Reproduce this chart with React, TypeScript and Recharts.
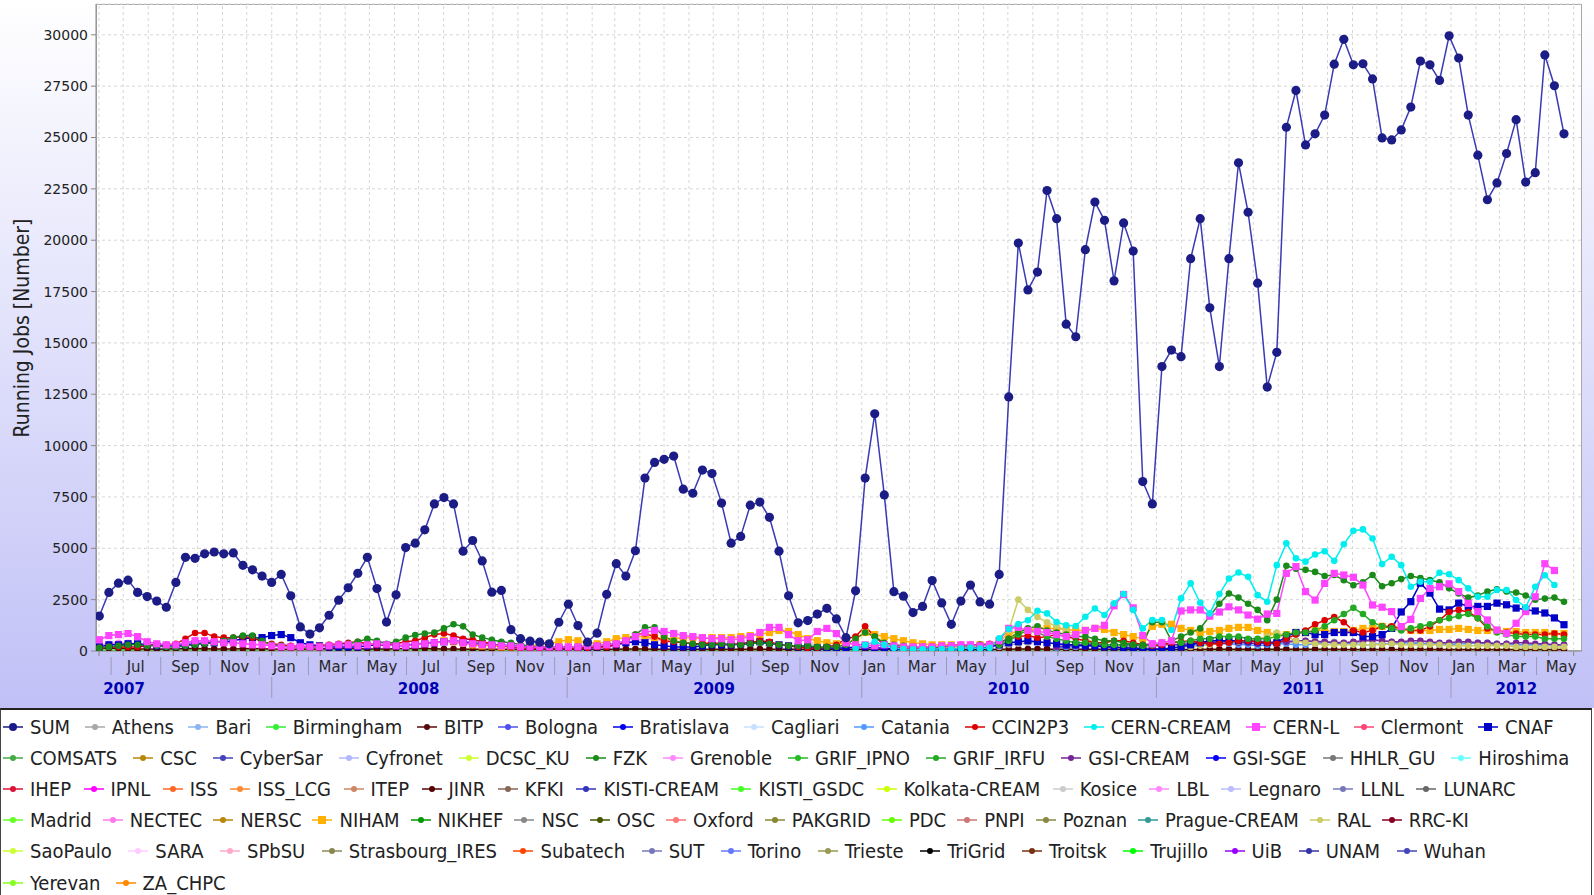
import React from "react"
import { LineChart, Line, XAxis, YAxis, CartesianGrid, ReferenceLine } from "recharts"

const W = 1594
const CHART_H = 708
const SANS = '"DejaVu Sans", Verdana, sans-serif'
const COND = '"DejaVu Sans Condensed", "DejaVu Sans", sans-serif'

const DAY_MS = 86400000
const T0 = Date.UTC(2007, 0, 1)
const day = (s: string) => (Date.parse(s + "T00:00:00Z") - T0) / DAY_MS

// samples: first one ~31 May 2007, then every ~11.9 days (days since 2007-01-01)
const FIRST_DAY = 151.4
const STEP_DAYS = 11.86
const X_DOMAIN = [147.3, 1988.3]
const Y_DOMAIN = [0, 31500]
const Y_TICKS = [0, 2500, 5000, 7500, 10000, 12500, 15000, 17500, 20000, 22500, 25000, 27500, 30000]

const MONTHS = ["Jan", "Feb", "Mar", "Apr", "May", "Jun", "Jul", "Aug", "Sep", "Oct", "Nov", "Dec"]
const YEAR_LABELS = ["2007", "2008", "2009", "2010", "2011", "2012"]
const YEAR_LABEL_AT = ["2007-07-02", "2008-07-01", "2009-07-02", "2010-07-02", "2011-07-02", "2012-03-22"]

const sum = [
  1700, 2850, 3300, 3450, 2850, 2650, 2430, 2130, 3340, 4560,
  4510, 4730, 4820, 4730, 4775, 4170, 3950, 3650, 3340, 3730,
  2690, 1170, 825, 1130, 1740, 2475, 3080, 3780, 4560, 3040,
  1410, 2735, 5035, 5250, 5900, 7160, 7470, 7160, 4860, 5380,
  4385, 2865, 2950, 1040, 600, 480, 430, 350, 1400, 2280,
  1240, 430, 870, 2760, 4250, 3650, 4880, 8420, 9180, 9330,
  9490, 7880, 7680, 8810, 8640, 7200, 5250, 5580, 7100, 7250,
  6510, 4860, 2690, 1370, 1480, 1800, 2080, 1560, 650, 2930,
  8420, 11550, 7600, 2890, 2670, 1870, 2170, 3430, 2340, 1300,
  2430, 3210, 2390, 2280, 3730, 12370, 19860, 17580, 18450, 22420,
  21050, 15910, 15300, 19540, 21860, 20970, 18020, 20840, 19470, 8250,
  7160, 13850, 14650, 14330, 19100, 21050, 16710, 13850, 19100, 23770,
  21360, 17910, 12850, 14540, 25500, 27290, 24640, 25180, 26090, 28570,
  29780, 28540, 28590, 27850, 24980, 24880, 25370, 26480, 28720, 28540,
  27780, 29950, 28870, 26090, 24140, 21970, 22790, 24220, 25870, 22830,
  23290, 29020, 27520, 25180,
]

// per-site series: first sample index + values
const cernCreamStart = 79
const cernCream = [
  100, 300, 450, 300, 150, 100, 80, 80, 100, 100, 80, 120, 150, 120, 150,
  620, 1070, 1310, 1500, 1960, 1830, 1410, 1250, 1220, 1670, 2070, 1750, 2320, 2770, 2000,
  1100, 1510, 1510, 1020, 2560, 3290, 2350, 1830, 2770, 3530, 3820, 3610, 2720, 2400,
  4180, 5240, 4510, 4350, 4700, 4860, 4390, 5200, 5850, 5920, 5480, 4230, 4590, 4180, 3130,
  3370, 3370, 3810, 3740, 3450, 3050, 2640, 2640, 2970, 2970, 2480, 2130, 3130, 3690, 3210,
]

const cernLStart = 0
const cernL = [
  550, 750, 800, 850, 700, 450, 350, 300, 300, 400, 500, 500, 450, 400, 400, 350, 300, 300,
  250, 200, 200, 200, 200, 200, 250, 300, 300, 250, 300, 350, 300, 250, 250, 300, 350, 400,
  450, 500, 400, 350, 300, 300, 250, 250, 200, 200, 200, 200, 200,
  200, 200, 250, 250, 300, 350, 500, 700, 900, 1000, 950, 850, 750, 700, 650, 600, 600, 550,
  600, 700, 900, 1150, 1150, 800, 500, 550, 950, 1100, 850, 400, 300,
  300, 250, 300, 250, 200, 200, 200, 200, 250, 250, 300, 300, 250, 300,
  500, 1100, 1150, 1000, 950, 900, 800, 700, 800, 1000, 1100, 1250, 2200, 2750, 2100, 750,
  350, 400, 500, 1950, 2000, 2000, 1700, 1900, 2150, 2000, 1750, 1550, 1800,
  1830, 3780, 4110, 2890, 2480, 3290, 3780, 3700, 3590, 3210, 2240, 2130, 1920, 1190, 1540,
  2560, 3050, 3130, 3270, 2890, 2320, 1920, 1510, 1020, 860, 1350, 1920, 2640, 4250, 3920,
]

const fzkStart = 0
const fzk = [
  150, 200, 250, 300, 300, 250, 250, 200, 200, 250, 300, 350, 400, 500, 650, 750, 750, 500,
  300, 250, 200, 150, 150, 200, 250, 300, 350, 450, 600, 500, 350, 450, 650, 780, 850, 900,
  1100, 1300, 1200, 800, 650, 550, 450, 400, 300, 250, 200, 200, 200,
  200, 200, 250, 250, 300, 350, 500, 800, 1150, 1150, 700, 500, 400, 350, 300, 300, 350,
  300, 300, 350, 400, 350, 300, 250, 250, 250, 200, 200, 200, 300, 600,
  900, 700, 400, 300, 250, 200, 200, 200, 200, 250, 250, 250, 300, 300, 400, 600, 900,
  1100, 1200, 1000, 900, 800, 700, 700, 600, 500, 500, 400, 300, 300,
  1400, 1400, 500, 700, 900, 1100, 1700, 2300, 2800, 2600, 2300, 2000, 1500, 2500, 4150,
  4000, 3950, 3850, 3650, 3700, 3450, 3200, 3350, 3700, 3150, 3300, 3500, 3650, 3550, 3450,
  3350, 3050, 2800, 2600, 2700, 2900, 3000, 2900, 2850, 2700, 2500, 2550, 2600, 2400,
]

const grifIrfuStart = 94
const grifIrfu = [
  300, 500, 800, 1000, 900, 700, 600, 500, 400, 400, 350, 300, 300, 300, 300, 250, 300,
  400, 500, 400, 500, 600, 600, 700, 700, 700, 600, 600, 600, 700, 800, 900, 900, 1000,
  1200, 1500, 1800, 2100, 1800, 1400, 1200, 1100, 1000, 1100, 1200, 1300, 1500, 1600,
  1700, 1800, 1600, 1200, 900, 800, 700, 700, 700, 600, 600, 600,
]

const cnafStart = 0
const cnaf = [
  200, 300, 300, 350, 350, 300, 250, 250, 250, 300, 350, 400, 400, 450, 500, 600, 650, 650,
  750, 800, 650, 400, 300, 250, 200, 200, 200, 200, 250, 300, 300, 250, 250, 300, 350, 400,
  450, 500, 450, 400, 350, 300, 300, 250, 200, 200, 200, 150, 150,
  150, 150, 150, 200, 250, 300, 400, 450, 400, 300, 250, 200, 200, 200, 250, 300, 300,
  300, 350, 400, 450, 400, 300, 250, 200, 200, 150, 150, 150, 150, 200,
  200, 150, 150, 100, 100, 100, 100, 100, 100, 100, 100, 150, 150, 200, 300, 400, 450,
  500, 450, 400, 350, 300, 300, 250, 250, 200, 200, 150, 150, 100,
  100, 100, 150, 200, 300, 400, 500, 500, 500, 500, 500, 450, 400, 400, 700, 900, 900,
  800, 800, 900, 900, 900, 700, 700, 800, 1100,
  1900, 2400, 3300, 2820, 2040, 2000, 2330, 2170, 2170, 2170, 2330, 2250, 2090, 2010,
  1950, 1850, 1610, 1280,
]

const ccin2p3Start = 0
const ccin2p3 = [
  150, 200, 200, 200, 200, 250, 300, 300, 350, 600, 880, 880, 700, 650, 650, 700, 650, 450,
  350, 300, 250, 200, 200, 250, 300, 350, 400, 450, 350, 300, 300, 350, 450, 500, 650, 800,
  850, 750, 600, 550, 450, 350, 250, 200, 150, 150, 150, 150, 150,
  150, 150, 150, 200, 200, 300, 500, 800, 850, 700, 500, 450, 400, 350, 350, 400, 350,
  300, 350, 400, 500, 450, 300, 250, 200, 150, 150, 200, 300, 600, 700,
  1200, 700, 300, 200, 150, 150, 150, 200, 200, 250, 300, 300, 300, 350, 400, 600, 700,
  750, 650, 700, 800, 700, 600, 500, 400, 400, 500, 500, 400, 300,
  250, 300, 400, 450, 500, 400, 350, 350, 400, 500, 500, 450, 400, 350, 600, 800, 1000,
  1300, 1500, 1650, 1400, 1000, 900, 1000, 1200, 1200, 1100, 1000, 1000, 1200, 1500,
  1900, 2000, 1900, 1600, 1100, 1000, 900, 850, 800, 800, 800, 850, 800,
]

const nihamStart = 36
const niham = [
  500, 450, 400, 300, 250, 250, 200, 200, 200, 250, 300, 350, 450,
  550, 500, 400, 350, 450, 600, 650, 700, 700, 650, 600, 600, 650, 650, 600, 650, 650,
  650, 700, 750, 800, 900, 1000, 950, 800, 600, 500, 400, 350, 350, 600,
  900, 800, 700, 600, 500, 400, 350, 300, 300, 300, 250, 250, 300, 300, 500, 800, 1000,
  1000, 1100, 1100, 1100, 1050, 1000, 1000, 1100, 1050, 900, 800, 700, 600, 1200,
  1300, 1300, 1100, 1000, 900, 950, 1000, 1100, 1150, 1150, 1000, 900, 800, 800, 900,
  900, 1000, 1000, 950, 950, 1000, 1100, 1100, 1200, 1150, 1100, 1000, 1000, 1000, 1050,
  1050, 1100, 1050, 1000, 1000, 1000, 950, 950, 900, 900, 900, 850, 850,
]

const ralStart = 88
const ral = [
  150, 150, 200, 200, 250, 300, 300, 1000, 2500, 2000, 1650, 1400, 1200, 1000, 800, 600,
  400, 300, 250, 200, 200, 200, 250, 300, 250, 200, 200, 250, 300, 350, 400, 450, 500, 600,
  700, 900, 700, 500, 400, 350, 300, 300, 300, 300, 300, 300, 300, 350, 300, 300, 300, 300,
  300, 250, 250, 250, 250, 250, 250, 250, 200, 200, 200, 200, 200, 200,
]

const jinrStart = 0
const jinr = [
  120, 130, 130, 120, 100, 100, 90, 100, 110, 120, 120, 110, 100, 100, 100, 110, 120, 110,
  100, 90, 80, 80, 90, 100, 110, 120, 120, 110, 100, 100, 100, 110, 120, 120, 120, 110,
  100, 100, 90, 90, 80, 80, 80, 80, 80, 80, 80, 80, 80,
  80, 80, 80, 80, 80, 90, 100, 100, 100, 90, 90, 90, 80, 80, 80, 80, 80, 80, 80, 90, 90,
  90, 80, 80, 80, 80, 80, 80, 80, 80, 80,
  80, 80, 70, 70, 70, 70, 70, 70, 70, 70, 70, 70, 70, 70, 80, 90, 100, 100, 100, 90, 90,
  90, 80, 80, 80, 80, 80, 70, 70, 70, 70, 70, 70, 70, 70, 70, 80, 80, 80, 80, 80, 80, 80,
  80, 80, 80, 80, 80, 80, 80, 70, 70, 70, 70, 70, 70, 70, 70, 70, 70, 70, 70, 70, 70, 70,
  70, 70, 70, 70, 70, 70, 70, 70, 70,
]

const birminghamStart = 0
const birmingham = [
  40, 50, 50, 60, 50, 40, 40, 50, 50, 60, 60, 50, 50, 40, 40, 50, 60, 50,
  50, 40, 40, 50, 50, 60, 60, 50, 50, 40, 50, 60, 60, 50, 50, 60, 70, 60,
  50, 50, 40, 40, 40, 50, 50, 50, 40, 40, 40, 40, 40,
  40, 40, 50, 50, 60, 60, 60, 50, 50, 40, 40, 50, 50, 50, 40, 40, 40, 50, 50, 60, 60,
  50, 50, 40, 40, 40, 40, 40, 40, 40, 40,
  40, 40, 40, 40, 40, 40, 40, 40, 40, 40, 40, 40, 40, 40, 50, 60, 60, 60, 50, 50, 50,
  50, 50, 40, 40, 40, 40, 40, 40, 40, 40, 40, 50, 50, 50, 50, 50, 50, 50, 50, 50, 60,
  60, 60, 60, 50, 50, 50, 50, 50, 50, 50, 50, 50, 50, 50, 50, 50, 50, 50, 50, 50, 50,
  50, 50, 50, 50, 50, 50, 50, 50, 50, 50,
]

const grenobleStart = 0
const grenoble = [
  300, 350, 400, 400, 350, 300, 300, 300, 300, 350, 450, 500, 500, 450, 400, 350, 350, 300,
  300, 250, 250, 250, 250, 250, 300, 300, 300, 350, 350, 300, 300, 300, 300, 350, 400, 450,
  450, 400, 350, 300, 300, 250, 250, 250, 250, 200, 200, 200, 200,
  200, 200, 200, 250, 300, 350, 400, 500, 600, 600, 500, 400,
]

const athensStart = 94
const athens = [
  200, 300, 350, 400, 450, 400, 350, 300, 300, 250, 250, 300, 300, 250, 200, 200, 200,
  250, 300, 350, 400, 400, 350, 350, 400, 400, 450, 500, 450, 400, 400, 450, 500, 500,
  450, 450, 400, 400, 450, 500, 500, 450, 400, 400, 400, 350, 350, 400, 400, 400, 350,
  350, 300, 300, 300, 300, 300, 300, 300, 300,
]

const cataniaStart = 100
const catania = [
  150, 200, 200, 250, 250, 200, 200, 150, 150, 200, 250, 300, 300, 250, 250, 300, 300,
  350, 350, 300, 300, 250, 300, 350, 350, 300, 300, 350, 400, 400, 350, 350, 300, 300,
  350, 350, 400, 400, 350, 350, 300, 300, 350, 350, 400, 400, 350, 350, 300, 300, 300,
  300, 300, 300,
]

const gsiCreamStart = 100
const gsiCream = [
  200, 250, 250, 300, 300, 250, 200, 200, 250, 300, 350, 350, 300, 300, 350, 400, 400,
  450, 450, 400, 400, 350, 400, 450, 450, 500, 500, 450, 450, 400, 400, 450, 500, 550,
  500, 450, 450, 500, 500, 450, 400, 400, 450, 450, 400, 400, 350, 350, 400, 400, 350,
  350, 300, 300,
]

const LEGEND_ROWS = [
  ["SUM", "Athens", "Bari", "Birmingham", "BITP", "Bologna", "Bratislava", "Cagliari", "Catania", "CCIN2P3", "CERN-CREAM", "CERN-L", "Clermont", "CNAF"],
  ["COMSATS", "CSC", "CyberSar", "Cyfronet", "DCSC_KU", "FZK", "Grenoble", "GRIF_IPNO", "GRIF_IRFU", "GSI-CREAM", "GSI-SGE", "HHLR_GU", "Hiroshima"],
  ["IHEP", "IPNL", "ISS", "ISS_LCG", "ITEP", "JINR", "KFKI", "KISTI-CREAM", "KISTI_GSDC", "Kolkata-CREAM", "Kosice", "LBL", "Legnaro", "LLNL", "LUNARC"],
  ["Madrid", "NECTEC", "NERSC", "NIHAM", "NIKHEF", "NSC", "OSC", "Oxford", "PAKGRID", "PDC", "PNPI", "Poznan", "Prague-CREAM", "RAL", "RRC-KI"],
  ["SaoPaulo", "SARA", "SPbSU", "Strasbourg_IRES", "Subatech", "SUT", "Torino", "Trieste", "TriGrid", "Troitsk", "Trujillo", "UiB", "UNAM", "Wuhan"],
  ["Yerevan", "ZA_CHPC"],
]
// spacing after each legend entry, per row
const LEGEND_GAPS = [14.5, 16, 12.5, 11, 16.5, 15]

const COLORS: Record<string, string> = {
  SUM: "#1a1a88", Athens: "#a8a8a8", Bari: "#8cb4f0", Birmingham: "#33ee33", BITP: "#5a0a0a",
  Bologna: "#5050f0", Bratislava: "#0000ee", Cagliari: "#c8e0ff", Catania: "#5599ff", CCIN2P3: "#dd0000",
  "CERN-CREAM": "#00eeee", "CERN-L": "#ff44ff", Clermont: "#ff4477", CNAF: "#0000c8",
  COMSATS: "#44aa44", CSC: "#b8860b", CyberSar: "#4444bb", Cyfronet: "#b0b8ff", DCSC_KU: "#ccff33",
  FZK: "#1a8a1a", Grenoble: "#ff88ff", GRIF_IPNO: "#22bb22", GRIF_IRFU: "#22aa22", "GSI-CREAM": "#772299",
  "GSI-SGE": "#0000ff", HHLR_GU: "#777777", Hiroshima: "#66ffff",
  IHEP: "#dd1133", IPNL: "#ff00ff", ISS: "#ff6622", ISS_LCG: "#ff8833", ITEP: "#cc8866", JINR: "#550000",
  KFKI: "#886655", "KISTI-CREAM": "#3333bb", KISTI_GSDC: "#44ff22", "Kolkata-CREAM": "#ccff00",
  Kosice: "#cccccc", LBL: "#ff88ff", Legnaro: "#bbbbff", LLNL: "#7777bb", LUNARC: "#666666",
  Madrid: "#66ff22", NECTEC: "#ff77ee", NERSC: "#b8860b", NIHAM: "#ffb000", NIKHEF: "#009900",
  NSC: "#888888", OSC: "#445500", Oxford: "#ff7777", PAKGRID: "#888833", PDC: "#66ff00", PNPI: "#cc7777",
  Poznan: "#888844", "Prague-CREAM": "#339999", RAL: "#cccc66", "RRC-KI": "#880022",
  SaoPaulo: "#ccff33", SARA: "#ffccff", SPbSU: "#ffaacc", Strasbourg_IRES: "#888855", Subatech: "#ff4400",
  SUT: "#7777bb", Torino: "#6677ff", Trieste: "#999955", TriGrid: "#000000", Troitsk: "#773311",
  Trujillo: "#00ff00", UiB: "#9900ff", UNAM: "#3333aa", Wuhan: "#4444bb",
  Yerevan: "#88ff22", ZA_CHPC: "#ff8800",
}
const SQUARE = new Set(["CERN-L", "CNAF", "NIHAM"])

// drawing order: background clutter first, SUM last
const SITES: { name: string; start: number; data: number[] }[] = [
  { name: "Birmingham", start: birminghamStart, data: birmingham },
  { name: "JINR", start: jinrStart, data: jinr },
  { name: "Grenoble", start: grenobleStart, data: grenoble },
  { name: "Athens", start: athensStart, data: athens },
  { name: "Catania", start: cataniaStart, data: catania },
  { name: "GSI-CREAM", start: gsiCreamStart, data: gsiCream },
  { name: "NIHAM", start: nihamStart, data: niham },
  { name: "RAL", start: ralStart, data: ral },
  { name: "CNAF", start: cnafStart, data: cnaf },
  { name: "CCIN2P3", start: ccin2p3Start, data: ccin2p3 },
  { name: "GRIF_IRFU", start: grifIrfuStart, data: grifIrfu },
  { name: "FZK", start: fzkStart, data: fzk },
  { name: "CERN-L", start: cernLStart, data: cernL },
  { name: "CERN-CREAM", start: cernCreamStart, data: cernCream },
]

const rows = sum.map((v, i) => {
  const r: Record<string, number | null> = { t: FIRST_DAY + i * STEP_DAYS, SUM: v }
  SITES.forEach((s) => {
    const k = i - s.start
    r[s.name] = k >= 0 && k < s.data.length ? s.data[k] : null
  })
  return r
})

// x axis ticks: month starts (small ticks + grid), mid months (labels / separators), year labels
type TickInfo = { kind: "start" | "mid" | "year"; month: number; label?: string }
const tickInfo = new Map<number, TickInfo>()
const monthStarts: number[] = []
for (let k = 0; k < 62; k++) {
  const y = 2007 + Math.floor((4 + k) / 12)
  const m = (4 + k) % 12
  const s = (Date.UTC(y, m, 1) - T0) / DAY_MS
  const e = (Date.UTC(y, m + 1, 1) - T0) / DAY_MS
  const mid = (s + e) / 2
  if (s >= X_DOMAIN[0] && s <= X_DOMAIN[1]) {
    monthStarts.push(s)
    tickInfo.set(s, { kind: "start", month: m })
  }
  if (mid >= X_DOMAIN[0] && mid <= X_DOMAIN[1]) {
    tickInfo.set(mid, { kind: "mid", month: m, label: m % 2 === 0 ? MONTHS[m] : undefined })
  }
}
YEAR_LABELS.forEach((lab, i) => tickInfo.set(day(YEAR_LABEL_AT[i]) + 0.01, { kind: "year", month: 0, label: lab }))
const X_TICKS = [...tickInfo.keys()].sort((a, b) => a - b)

const AXIS_Y = 651

function XTick(props: any) {
  const { x, payload } = props
  const info = tickInfo.get(payload.value)
  if (!info) return <g />
  if (info.kind === "start") {
    return (
      <g>
        <line x1={x} x2={x} y1={AXIS_Y} y2={AXIS_Y + 5} stroke="#888" />
        {info.month === 0 && <line x1={x} x2={x} y1={677} y2={698} stroke="#9a9ab8" />}
      </g>
    )
  }
  if (info.kind === "mid") {
    if (info.label)
      return (
        <text x={x} y={672} textAnchor="middle" fontFamily={SANS} fontSize={15} fill="#2a2a2a">
          {info.label}
        </text>
      )
    return <line x1={x} x2={x} y1={657} y2={675} stroke="#9a9ab8" />
  }
  return (
    <text x={x} y={694} textAnchor="middle" fontFamily={SANS} fontSize={15} fontWeight="bold" fill="#0000b4">
      {info.label}
    </text>
  )
}

const makeDot = (color: string, square: boolean, r: number, name: string) => (p: any) => {
  const { cx, cy, index, value } = p
  if (cx == null || cy == null || value == null) return <g key={`${name}-${index}`} />
  if (square)
    return <rect key={`${name}-${index}`} x={cx - r} y={cy - r} width={2 * r} height={2 * r} fill={color} />
  return <circle key={`${name}-${index}`} cx={cx} cy={cy} r={r} fill={color} />
}

function LegendMark({ name }: { name: string }) {
  const c = COLORS[name]
  return (
    <svg width={20} height={12} style={{ display: "block" }}>
      <line x1={0} x2={20} y1={6} y2={6} stroke={c} strokeWidth={1.5} />
      {SQUARE.has(name) ? (
        <rect x={6} y={2} width={8} height={8} fill={c} />
      ) : (
        <circle cx={10} cy={6} r={name === "SUM" ? 4 : 3} fill={c} />
      )}
    </svg>
  )
}

export default function App() {
  return (
    <div style={{ position: "absolute", left: 0, top: 0, width: W, height: 895, background: "#fff", overflow: "hidden" }}>
      <div
        style={{
          position: "absolute", left: 0, top: 0, width: W, height: CHART_H,
          background: "linear-gradient(to bottom, #ffffff 0%, #c0c0f7 100%)",
        }}
      />
      <div
        style={{
          position: "absolute", left: 96, top: 4, width: 1486, height: 647, background: "#fff",
          border: "1px solid #a8a8a8", boxSizing: "border-box",
        }}
      />
      <div
        style={{
          position: "absolute", left: 22, top: 328, transform: "translate(-50%, -50%) rotate(-90deg)",
          whiteSpace: "nowrap", fontFamily: COND, fontSize: 21, color: "#222",
        }}
      >
        Running Jobs [Number]
      </div>
      <div style={{ position: "absolute", left: 0, top: 0 }}>
        <LineChart width={W} height={CHART_H} data={rows} margin={{ top: 4, right: 12, bottom: 0, left: 0 }}>
          <CartesianGrid vertical={false} stroke="#d6d6d6" strokeDasharray="3 3" />
          {monthStarts.map((d) => (
            <ReferenceLine key={d} x={d} stroke="#d6d6d6" strokeDasharray="3 3" />
          ))}
          <XAxis
            dataKey="t"
            type="number"
            domain={X_DOMAIN}
            ticks={X_TICKS}
            interval={0}
            height={57}
            tickLine={false}
            axisLine={{ stroke: "#888" }}
            tick={(p: any) => <XTick {...p} />}
            allowDataOverflow
          />
          <YAxis
            type="number"
            domain={Y_DOMAIN}
            ticks={Y_TICKS}
            interval={0}
            width={96}
            tickSize={5}
            tickMargin={3}
            axisLine={{ stroke: "#888" }}
            tickLine={{ stroke: "#888" }}
            tick={{ fill: "#222", fontSize: 14, fontFamily: SANS }}
            allowDataOverflow
          />
          {SITES.map((s) => (
            <Line
              key={s.name}
              type="linear"
              dataKey={s.name}
              stroke={COLORS[s.name]}
              strokeWidth={1.5}
              dot={makeDot(COLORS[s.name], SQUARE.has(s.name), SQUARE.has(s.name) ? 3.6 : 3.3, s.name)}
              activeDot={false}
              connectNulls={false}
              isAnimationActive={false}
            />
          ))}
          <Line
            type="linear"
            dataKey="SUM"
            stroke="#3a3ab4"
            strokeWidth={1.5}
            dot={makeDot("#1c1c86", false, 4.6, "SUM")}
            activeDot={false}
            isAnimationActive={false}
          />
        </LineChart>
      </div>
      <div
        style={{
          position: "absolute", left: 0, top: 708, width: 1592, height: 190, boxSizing: "border-box",
          borderTop: "2px solid #222", borderLeft: "1px solid #444", borderRight: "1px solid #444",
          background: "#fff", paddingTop: 1, paddingLeft: 2, fontFamily: COND, fontSize: 20, color: "#222",
        }}
      >
        {LEGEND_ROWS.map((row, ri) => (
          <div key={ri} style={{ display: "flex", alignItems: "center", height: 31.2, whiteSpace: "nowrap" }}>
            {row.map((name) => (
              <div key={name} style={{ display: "flex", alignItems: "center", marginRight: LEGEND_GAPS[ri] }}>
                <LegendMark name={name} />
                <span style={{ marginLeft: 7 }}>{name}</span>
              </div>
            ))}
          </div>
        ))}
      </div>
    </div>
  )
}
